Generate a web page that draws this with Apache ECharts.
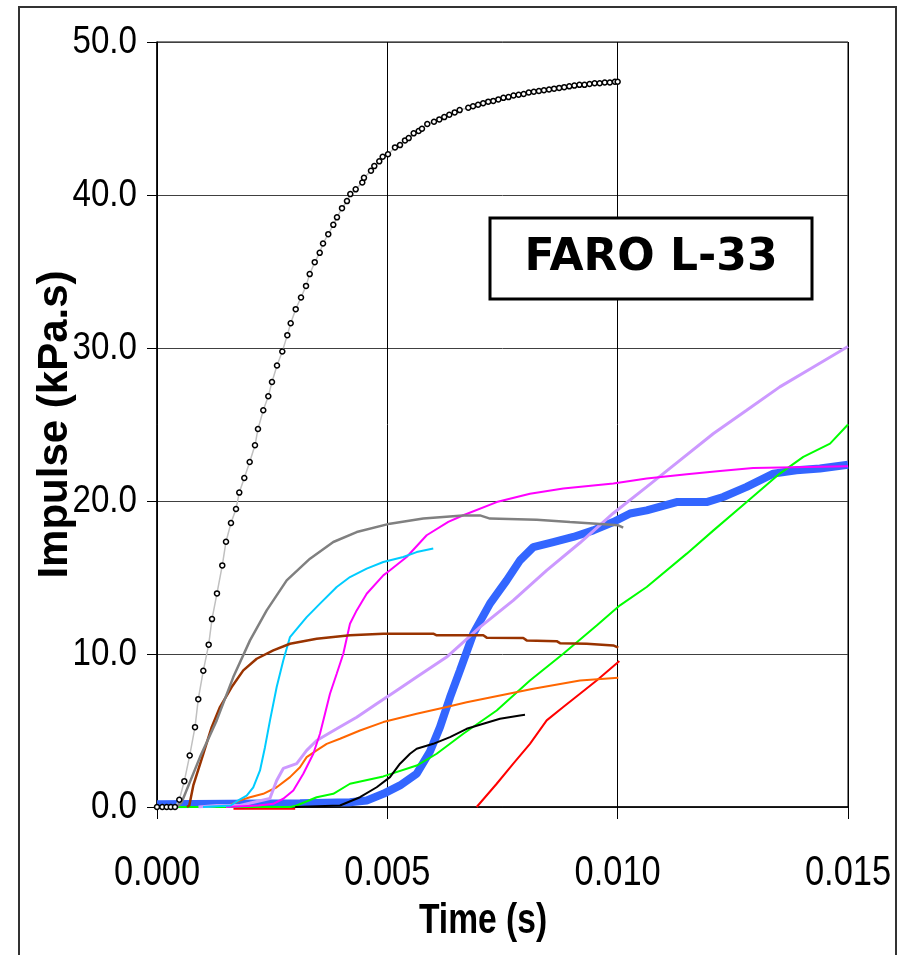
<!DOCTYPE html>
<html><head><meta charset="utf-8">
<script src="https://cdn.jsdelivr.net/npm/echarts@6/dist/echarts.min.js"></script>
<style>html,body{margin:0;padding:0;background:#fff}#c{width:904px;height:955px}</style>
</head><body><div id="c"></div>
<script>
// ---- ticks ----
const xTickValues = [0, 0.005, 0.010, 0.015];
const xTickLabels = ['0.000', '0.005', '0.010', '0.015'];
const yTickValues = [0, 10, 20, 30, 40, 50];
const yTickLabels = ['0.0', '10.0', '20.0', '30.0', '40.0', '50.0'];
const xTitle = 'Time (s)';
const yTitle = 'Impulse (kPa.s)';
const boxLabel = 'FARO L-33';

// ---- series values: [time (s), impulse (kPa.s)] ----
const faroL33 = [[0,0],[0.000115,0],[0.00021,0],[0.00030,0],[0.00039,0],[0.000484,0.47],[0.000593,1.69],[0.000710,3.37],[0.000825,5.22],[0.000896,7.05],[0.001005,8.91],[0.001122,10.61],[0.001194,12.28],[0.001302,13.96],[0.001417,15.79],[0.001498,17.34],[0.001606,18.56],[0.001715,19.48],[0.001786,20.55],[0.001895,21.50],[0.002012,22.55],[0.002127,23.64],[0.002192,24.71],[0.002307,25.93],[0.002416,26.85],[0.002496,27.78],[0.002605,28.86],[0.002720,29.77],[0.002829,30.84],[0.002902,31.62],[0.003011,32.54],[0.003126,33.30],[0.003235,34.06],[0.003315,34.83],[0.003424,35.61],[0.003532,36.22],[0.003604,36.83],[0.003718,37.44],[0.003827,38.05],[0.003907,38.54],[0.004016,39.14],[0.004124,39.60],[0.004196,40.06],[0.004313,40.37],[0.004456,40.82],[0.004493,41.12],[0.004645,41.58],[0.004717,41.89],[0.004825,42.20],[0.004899,42.50],[0.005014,42.66],[0.005166,43.11],[0.005275,43.26],[0.005383,43.57],[0.005464,43.72],[0.005572,44.03],[0.005680,44.18],[0.005752,44.33],[0.005867,44.64],[0.006013,44.79],[0.006128,44.94],[0.006236,45.09],[0.006345,45.25],[0.006462,45.40],[0.006570,45.55],[0.006757,45.70],[0.00686,45.8],[0.00697,45.9],[0.00708,46.0],[0.00719,46.1],[0.00730,46.15],[0.00741,46.25],[0.00752,46.35],[0.00763,46.4],[0.00774,46.5],[0.00785,46.55],[0.00796,46.6],[0.00807,46.7],[0.00818,46.75],[0.00829,46.8],[0.00840,46.85],[0.00851,46.9],[0.00862,46.95],[0.00873,47.0],[0.00884,47.05],[0.00895,47.1],[0.00906,47.15],[0.00917,47.2],[0.00928,47.2],[0.00939,47.25],[0.00950,47.3],[0.00961,47.3],[0.00972,47.35],[0.00983,47.35],[0.00994,47.4],[0.01000,47.4]];
const grayS = [[0.00043,0],[0.000536,0.31],[0.000933,3.26],[0.001296,5.66],[0.001656,8.49],[0.002019,10.89],[0.002381,12.85],[0.002815,14.81],[0.003321,16.23],[0.003827,17.32],[0.004335,17.97],[0.005058,18.52],[0.005780,18.85],[0.006642,19.06],[0.007011,19.06],[0.007228,18.85],[0.008242,18.78],[0.008965,18.63],[0.009544,18.52],[0.010013,18.41],[0.01012,18.26]];
const brownS = [[0.00065,0],[0.000701,0.1],[0.000788,1.41],[0.001005,3.48],[0.001187,5.22],[0.001367,6.53],[0.001621,7.84],[0.001873,8.93],[0.002164,9.69],[0.002524,10.24],[0.002887,10.67],[0.003466,11.0],[0.004189,11.22],[0.004912,11.33],[0.005997,11.33],[0.006071,11.22],[0.007083,11.22],[0.007157,11.07],[0.007951,11.04],[0.008025,10.89],[0.008676,10.84],[0.008748,10.71],[0.009327,10.67],[0.009362,10.56],[0.009905,10.56],[0.010013,10.41]];
const cyanS = [[0.0010,0],[0.0016,0.1],[0.001765,0.43],[0.001947,0.75],[0.002090,1.29],[0.002236,2.39],[0.002344,3.91],[0.002453,5.66],[0.002598,7.84],[0.002741,9.58],[0.002887,11.11],[0.003067,11.76],[0.003249,12.41],[0.003538,13.29],[0.003901,14.38],[0.004189,15.03],[0.004552,15.58],[0.004912,16.01],[0.005346,16.34],[0.005637,16.66],[0.005997,16.89]];
const magentaS = [[0.0015,0],[0.0022,0.1],[0.002524,0.21],[0.002741,0.54],[0.002959,1.08],[0.003176,2.17],[0.003393,3.48],[0.003538,4.79],[0.003647,6.10],[0.003755,7.40],[0.003901,8.71],[0.004044,10.02],[0.004189,11.98],[0.004335,12.85],[0.004552,13.94],[0.004912,15.14],[0.005058,15.47],[0.005420,16.34],[0.005854,17.76],[0.006323,18.63],[0.006649,19.07],[0.007374,19.93],[0.008096,20.48],[0.008819,20.81],[0.009905,21.14],[0.01063,21.47],[0.01150,21.75],[0.01222,21.96],[0.01294,22.16],[0.01410,22.22],[0.01500,22.27]];
const lavenderS = [[0.0009,0],[0.001296,0.1],[0.00180,0.1],[0.00245,0.55],[0.002598,1.73],[0.002741,2.52],[0.003032,2.83],[0.003249,3.70],[0.003466,4.35],[0.003901,5.11],[0.004335,5.87],[0.004769,6.75],[0.005203,7.62],[0.005637,8.49],[0.006288,9.80],[0.007011,11.76],[0.007734,13.51],[0.008459,15.47],[0.009182,17.27],[0.009905,19.2],[0.01063,20.92],[0.01135,22.66],[0.01208,24.41],[0.01280,25.93],[0.01352,27.46],[0.01425,28.76],[0.01500,30.10]];
const orangeS = [[0.0015,0],[0.00180,0.43],[0.002019,0.64],[0.002307,0.86],[0.002598,1.29],[0.002887,1.95],[0.003104,2.60],[0.003249,3.26],[0.003466,3.70],[0.003684,4.13],[0.003972,4.46],[0.004406,5.00],[0.004912,5.55],[0.005637,6.10],[0.006288,6.53],[0.006722,6.85],[0.007445,7.29],[0.008168,7.73],[0.009182,8.27],[0.010013,8.45]];
const blackS = [[0.0030,0],[0.003972,0.1],[0.004406,0.64],[0.004769,1.29],[0.005058,1.95],[0.005275,2.83],[0.005492,3.48],[0.005637,3.81],[0.005997,4.13],[0.006360,4.57],[0.006722,5.11],[0.007083,5.44],[0.007445,5.77],[0.007879,5.98],[0.007988,6.03]];
const greenS = [[0,0],[0.0029,0],[0.003032,0.1],[0.003466,0.64],[0.003827,0.86],[0.004189,1.52],[0.004912,2.0],[0.005637,2.71],[0.006071,3.48],[0.006649,4.79],[0.007374,6.31],[0.008096,8.27],[0.008819,10.02],[0.009544,11.87],[0.01005,13.18],[0.01063,14.38],[0.01150,16.56],[0.01208,18.08],[0.01280,19.93],[0.01352,21.79],[0.01403,22.88],[0.01461,23.75],[0.01500,25.0]];
const redS = [[0.00166,-0.12],[0.00300,-0.12],[0.00301,'-'],[0.006939,0],[0.007374,1.52],[0.007734,2.83],[0.008096,4.13],[0.008459,5.66],[0.008819,6.53],[0.009182,7.40],[0.009544,8.27],[0.010013,9.47],[0.010035,9.54]];
const blueS = [[0,0.18],[0.003104,0.25],[0.004189,0.31],[0.004552,0.43],[0.004912,0.86],[0.005275,1.41],[0.005637,2.17],[0.005926,3.63],[0.006143,5.22],[0.006360,7.16],[0.006577,8.93],[0.006866,11.33],[0.007228,13.29],[0.007591,14.81],[0.007879,16.12],[0.008168,16.99],[0.008602,17.32],[0.009036,17.65],[0.009470,18.08],[0.009905,18.63],[0.01027,19.18],[0.01063,19.39],[0.01128,19.93],[0.01193,19.93],[0.01229,20.26],[0.01280,20.92],[0.01338,21.79],[0.01388,22.01],[0.01439,22.12],[0.01500,22.37]];

const chart = echarts.init(document.getElementById('c'), null, {renderer: 'canvas'});
function ln(name, data, color, width, z, extra) {
  return Object.assign({ name, type: 'line', data, symbol: 'none', showSymbol: false,
    lineStyle: { color, width }, itemStyle: { color }, z, animation: false }, extra || {});
}
const sans = "'Liberation Sans', Arial, sans-serif";
chart.setOption({
  animation: false,
  backgroundColor: '#fff',
  grid: { left: 157, top: 42, right: 56, bottom: 148, show: true, borderColor: '#000', borderWidth: 1, backgroundColor: 'transparent' },
  xAxis: {
    type: 'value', min: 0, max: 0.015, interval: 0.005,
    axisLine: { onZero: false, lineStyle: { color: '#000', width: 1.5 } },
    axisTick: { show: true, length: 12, inside: false, lineStyle: { color: '#000', width: 1 } },
    axisLabel: { show: false },
    splitLine: { show: true, lineStyle: { color: '#000', width: 1 } }
  },
  yAxis: {
    type: 'value', min: 0, max: 50, interval: 10,
    name: yTitle, nameLocation: 'middle', nameGap: 81,
    nameTextStyle: { fontFamily: sans, fontWeight: 'bold', fontSize: 42, color: '#000' },
    axisLine: { show: true, lineStyle: { color: '#000', width: 1.5 } },
    axisTick: { show: true, length: 10, inside: false, lineStyle: { color: '#000', width: 1 } },
    axisLabel: { show: false },
    splitLine: { show: true, lineStyle: { color: '#404040', width: 1 } }
  },
  series: [
    ln('Blue', blueS, '#3366ff', 8, 2),
    ln('Green', greenS, '#00ff00', 2, 3),
    ln('Red', redS, '#ff0000', 2, 2.5, { clip: false }),
    ln('Black', blackS, '#000000', 2, 4),
    ln('Orange', orangeS, '#ff6600', 2, 4),
    ln('Lavender', lavenderS, '#cc99ff', 3, 4),
    ln('Magenta', magentaS, '#ff00ff', 2, 5),
    ln('Cyan', cyanS, '#00ccff', 2, 5),
    ln('Brown', brownS, '#993300', 2.5, 5),
    ln('Gray', grayS, '#808080', 2.5, 5),
    { name: 'FARO L-33', type: 'line', data: faroL33, z: 8, animation: false,
      symbol: 'circle', symbolSize: 5, showSymbol: true,
      lineStyle: { color: '#c0c0c0', width: 1.5 },
      itemStyle: { color: '#ffffff', borderColor: '#000000', borderWidth: 1.5 } }
  ]
});

// Tick labels and x title in a condensed form (Excel-like), placed through the axes' own scales.
const gfx = [
  { type: 'rect', z: 0, silent: true, shape: { x: 19, y: 7, width: 877, height: 965 },
    style: { fill: 'none', stroke: '#333', lineWidth: 2 } },
  { type: 'rect', z: 50, shape: { x: 490, y: 218, width: 322, height: 81 },
    style: { fill: '#fff', stroke: '#000', lineWidth: 3 } },
  { type: 'text', z: 51, x: 651, y: 259,
    style: { text: boxLabel, fontFamily: "'DejaVu Sans', sans-serif", fontWeight: 'bold', fontSize: 44,
      fill: '#000', align: 'center', verticalAlign: 'middle' } }
];
const y0px = chart.convertToPixel({ yAxisIndex: 0 }, 0);
const x0px = chart.convertToPixel({ xAxisIndex: 0 }, 0);
xTickValues.forEach((v, i) => {
  gfx.push({ type: 'text', z: 20, x: chart.convertToPixel({ xAxisIndex: 0 }, v), y: y0px + 66, scaleX: 0.82,
    style: { text: xTickLabels[i], fontFamily: sans, fontSize: 42, fill: '#000', align: 'center', verticalAlign: 'middle' } });
});
yTickValues.forEach((v, i) => {
  gfx.push({ type: 'text', z: 20, x: x0px - 20, y: chart.convertToPixel({ yAxisIndex: 0 }, v), scaleX: 0.85,
    style: { text: yTickLabels[i], fontFamily: sans, fontSize: 39, fill: '#000', align: 'right', verticalAlign: 'middle' } });
});
gfx.push({ type: 'text', z: 20, x: 483, y: y0px + 114, scaleX: 0.8,
  style: { text: xTitle, fontFamily: sans, fontWeight: 'bold', fontSize: 42, fill: '#000', align: 'center', verticalAlign: 'middle' } });
chart.setOption({ graphic: gfx });
</script></body></html>
